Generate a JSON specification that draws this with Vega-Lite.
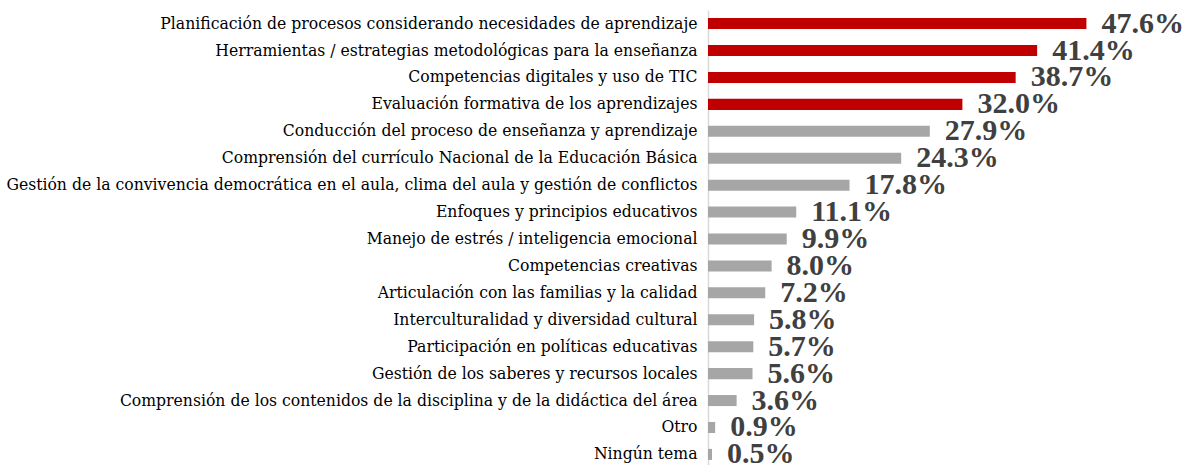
{
  "$schema": "https://vega.github.io/schema/vega-lite/v6.json",
  "width": 477,
  "height": 458,
  "padding": {"left": 5, "top": 8, "right": 0, "bottom": 0},
  "background": "white",
  "config": {"view": {"stroke": null}},
  "data": {"values": [
    {"tema": "Planificación de procesos considerando necesidades de aprendizaje", "pct": 0.476, "top": "yes"},
    {"tema": "Herramientas / estrategias metodológicas para la enseñanza", "pct": 0.414, "top": "yes"},
    {"tema": "Competencias digitales y uso de TIC", "pct": 0.387, "top": "yes"},
    {"tema": "Evaluación formativa de los aprendizajes", "pct": 0.320, "top": "yes"},
    {"tema": "Conducción del proceso de enseñanza y aprendizaje", "pct": 0.279, "top": "no"},
    {"tema": "Comprensión del currículo Nacional de la Educación Básica", "pct": 0.243, "top": "no"},
    {"tema": "Gestión de la convivencia democrática en el aula, clima del aula y gestión de conflictos", "pct": 0.178, "top": "no"},
    {"tema": "Enfoques y principios educativos", "pct": 0.111, "top": "no"},
    {"tema": "Manejo de estrés / inteligencia emocional", "pct": 0.099, "top": "no"},
    {"tema": "Competencias creativas", "pct": 0.080, "top": "no"},
    {"tema": "Articulación con las familias y la calidad", "pct": 0.072, "top": "no"},
    {"tema": "Interculturalidad y diversidad cultural", "pct": 0.058, "top": "no"},
    {"tema": "Participación en políticas educativas", "pct": 0.057, "top": "no"},
    {"tema": "Gestión de los saberes y recursos locales", "pct": 0.056, "top": "no"},
    {"tema": "Comprensión de los contenidos de la disciplina y de la didáctica del área", "pct": 0.036, "top": "no"},
    {"tema": "Otro", "pct": 0.009, "top": "no"},
    {"tema": "Ningún tema", "pct": 0.005, "top": "no"}
  ]},
  "encoding": {
    "y": {"field": "tema", "type": "nominal", "sort": null,
      "scale": {"paddingInner": 0.59, "paddingOuter": 0.3},
      "axis": {"title": null, "ticks": false, "domainColor": "#d9d9d9", "domainWidth": 1.5,
        "labelFont": "DejaVu Serif Condensed", "labelFontSize": 17.4, "labelColor": "#000000",
        "labelPadding": 11, "labelLimit": 800}},
    "x": {"field": "pct", "type": "quantitative", "scale": {"domain": [0, 0.6]}, "axis": null}
  },
  "layer": [
    {"mark": {"type": "bar"},
     "encoding": {"color": {"field": "top", "type": "nominal",
       "scale": {"domain": ["yes", "no"], "range": ["#c00000", "#a6a6a6"]}, "legend": null}}},
    {"mark": {"type": "text", "align": "left", "baseline": "middle", "dx": 15, "dy": 0,
       "font": "Liberation Serif", "fontWeight": "bold", "fontSize": 30, "fill": "#404040"},
     "encoding": {"text": {"field": "pct", "type": "quantitative", "format": ".1%"}}}
  ]
}
